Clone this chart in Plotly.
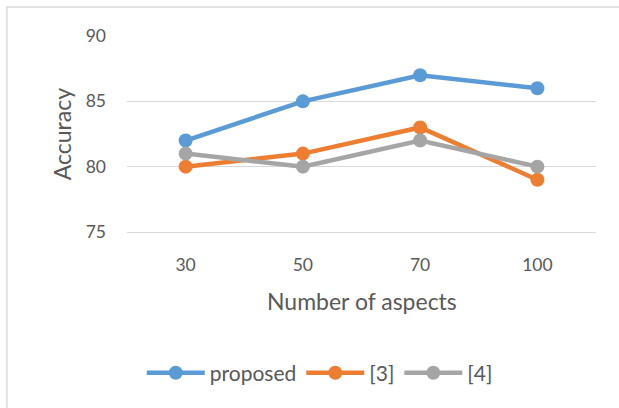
import plotly.graph_objects as go

categories = ["30", "50", "70", "100"]
proposed = [82, 85, 87, 86]
ref3 = [80, 81, 83, 79]
ref4 = [81, 80, 82, 80]
y_ticks = [75, 80, 85, 90]

series = [("proposed", proposed, "#5B9BD5"), ("[3]", ref3, "#ED7D31"), ("[4]", ref4, "#A5A5A5")]

FONT = "Lato, Carlito, Calibri, sans-serif"
fig = go.Figure()
for name, vals, col in series:
    fig.add_trace(go.Scatter(x=categories, y=vals, name=name, mode="lines+markers",
                             line=dict(color=col, width=4.5),
                             marker=dict(color=col, size=14)))

fig.update_layout(
    width=619, height=408,
    margin=dict(l=127, r=23, t=36, b=176),
    paper_bgcolor="white", plot_bgcolor="white",
    font=dict(family=FONT, color="#595959", size=17),
    showlegend=True,
    legend=dict(orientation="h", x=0.411, xanchor="center", xref="paper",
                y=-0.72, yanchor="middle", font=dict(size=21, color="#595959"),
                itemwidth=58, traceorder="normal"),
    xaxis=dict(type="category", range=[-0.5, 3.5], showgrid=False, showline=True,
               linecolor="#d9d9d9", linewidth=1, ticks="", ticklabelstandoff=17,
               tickfont=dict(size=17.5, color="#595959"), zeroline=False),
    yaxis=dict(range=[75, 90], tickvals=y_ticks, showgrid=True, gridcolor="#d9d9d9",
               gridwidth=1, showline=False, ticks="", ticklabelstandoff=20,
               tickfont=dict(size=17.5, color="#595959"), zeroline=False),
    annotations=[
        dict(text="Accuracy", xref="paper", yref="paper", x=-0.138, y=0.5,
             textangle=-90, showarrow=False, font=dict(size=23, color="#595959"),
             xanchor="center", yanchor="middle"),
        dict(text="Number of aspects", xref="paper", yref="paper", x=0.5, y=-0.35,
             showarrow=False, font=dict(size=23, color="#595959"),
             xanchor="center", yanchor="middle"),
    ],
    shapes=[dict(type="rect", xref="paper", yref="paper", x0=-0.256, x1=1.1,
                 y0=-1.2, y1=1.148, line=dict(color="#d9d9d9", width=1.5),
                 fillcolor="rgba(0,0,0,0)", layer="below")],
)
fig.write_html("out.html")
